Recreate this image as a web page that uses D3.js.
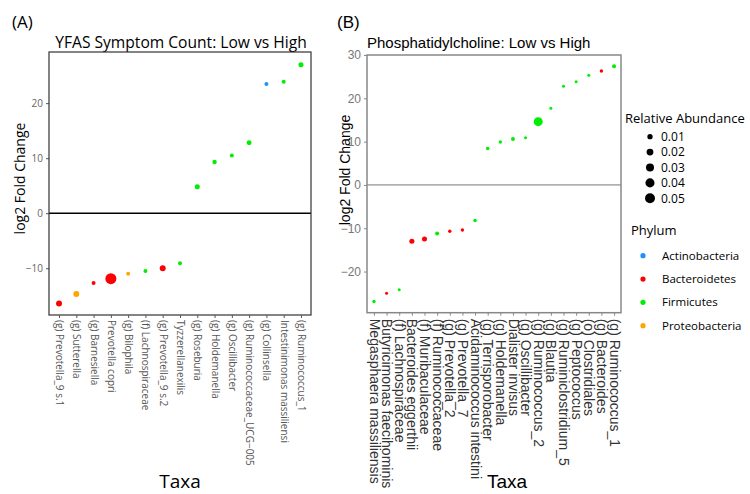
<!DOCTYPE html>
<html>
<head>
<meta charset="utf-8">
<script src="https://cdn.jsdelivr.net/npm/d3@7"></script>
<style>
  body { margin: 0; background: #fff; }
  svg { display: block; }
</style>
</head>
<body>
<svg id="chart" width="750" height="494"></svg>
<script>
// --- data: panel A (YFAS Symptom Count) ---
const taxaA = ['(g) Prevotella_9 s.1', '(g) Sutterella', '(g) Barnesiella', 'Prevotella copri',
  '(g) Bilophila', '(f) Lachnospiraceae', '(g) Prevotella_9 s.2', 'Tyzzerellanexilis',
  '(g) Roseburia', '(g) Holdemanella', '(g) Oscillibacter', '(g) Ruminococcaceae_UCG\u2212005',
  '(g) Collinsella', 'Intestinimonas massiliensi', '(g) Ruminococcus_1'];
const lfcA = [-16.4, -14.7, -12.7, -11.9, -11.0, -10.5, -10.0, -9.1, 4.8, 9.3, 10.5, 12.8, 23.5, 23.9, 27.0];
const abundA = [0.018, 0.018, 0.006, 0.07, 0.006, 0.006, 0.018, 0.006, 0.012, 0.008, 0.006, 0.011, 0.006, 0.006, 0.012];
const phylumA = ['Bacteroidetes', 'Proteobacteria', 'Bacteroidetes', 'Bacteroidetes', 'Proteobacteria',
  'Firmicutes', 'Bacteroidetes', 'Firmicutes', 'Firmicutes', 'Firmicutes', 'Firmicutes', 'Firmicutes',
  'Actinobacteria', 'Firmicutes', 'Firmicutes'];
const yTicksA = [-10, 0, 10, 20];

// --- data: panel B (Phosphatidylcholine) ---
const taxaB = ['Megasphaera massiliensis', 'Butyricimonas faecihominis', '(f) Lachnospiraceae',
  'Bacteroides eggerthii', '(f) Muribaculaceae', '(f) Ruminococcaceae', '(g) Prevotella_2',
  '(g) Prevotella_7', 'Acidaminococcus intestini', '(g) Terrisporobacter', '(g) Holdemanella',
  'Dialister invisus', '(g) Oscillibacter', '(g) Ruminococcus_2', '(g) Blautia',
  '(g) Ruminiclostridium_5', '(g) Peptococcus', '(o) Clostridiales', '(g) Bacteroides', '(g) Ruminococcus_1'];
const lfcB = [-26.9, -25.0, -24.2, -13.0, -12.5, -11.2, -10.7, -10.4, -8.2, 8.4, 9.9, 10.6, 10.9, 14.6, 17.7, 22.8, 23.8, 25.3, 26.3, 27.4];
const abundB = [0.0035, 0.002, 0.002, 0.012, 0.012, 0.006, 0.0035, 0.0035, 0.004, 0.004, 0.0035, 0.006, 0.002, 0.045, 0.002, 0.002, 0.002, 0.002, 0.0035, 0.006];
const phylumB = ['Firmicutes', 'Bacteroidetes', 'Firmicutes', 'Bacteroidetes', 'Bacteroidetes', 'Firmicutes',
  'Bacteroidetes', 'Bacteroidetes', 'Firmicutes', 'Firmicutes', 'Firmicutes', 'Firmicutes', 'Firmicutes',
  'Firmicutes', 'Firmicutes', 'Firmicutes', 'Firmicutes', 'Firmicutes', 'Bacteroidetes', 'Firmicutes'];
const yTicksB = [-20, -10, 0, 10, 20, 30];

// --- legends ---
const sizeBreaks = [0.01, 0.02, 0.03, 0.04, 0.05];
const phyla = ['Actinobacteria', 'Bacteroidetes', 'Firmicutes', 'Proteobacteria'];
const phylaColors = ['#1e90ff', '#ff0000', '#00ee00', '#ffa500'];

const svg = d3.select('#chart');
const color = d3.scaleOrdinal().domain(phyla).range(phylaColors);
const size = d3.scaleRadial().domain([0, 0.05]).range([1.2, 4.7]);

function toRows(taxa, lfc, ab, ph) {
  return taxa.map((t, i) => ({ taxon: t, lfc: lfc[i], abund: ab[i], phylum: ph[i] }));
}

// ---------- Panel A ----------
(function () {
  const box = { x0: 49, x1: 311, y0: 52, y1: 315 };
  const font = "'Open Sans', sans-serif";
  const rows = toRows(taxaA, lfcA, abundA, phylumA);
  const x = d3.scalePoint().domain(taxaA).range([box.x0, box.x1]).padding(0.58);
  const y = d3.scaleLinear().domain([-18.5, 29.3]).range([box.y1, box.y0]);
  const g = svg.append('g');

  g.append('text').attr('x', 12).attr('y', 28).style('font-family', font).style('font-size', '17px').text('(A)');
  g.append('text').attr('x', (box.x0 + box.x1) / 2 + 1).attr('y', 48).attr('text-anchor', 'middle')
    .style('font-family', font).style('font-size', '15.6px').text('YFAS Symptom Count: Low vs High');

  // y axis
  const ya = g.append('g').attr('transform', `translate(${box.x0},0)`)
    .call(d3.axisLeft(y).tickValues(yTicksA).tickSize(3).tickFormat(d => d < 0 ? '\u2212' + Math.abs(d) : d));
  ya.select('.domain').remove();
  ya.selectAll('line').attr('stroke', '#555');
  ya.selectAll('text').attr('fill', '#666').style('font-family', font).style('font-size', '10px');

  // zero line
  g.append('line').attr('x1', box.x0).attr('x2', box.x1).attr('y1', y(0)).attr('y2', y(0))
    .attr('stroke', '#000').attr('stroke-width', 1.5);

  g.append('rect').attr('x', box.x0).attr('y', box.y0).attr('width', box.x1 - box.x0).attr('height', box.y1 - box.y0)
    .attr('fill', 'none').attr('stroke', '#333').attr('stroke-width', 1.2);

  // x axis labels
  const xa = g.append('g').attr('transform', `translate(0,${box.y1})`)
    .call(d3.axisBottom(x).tickSize(3));
  xa.select('.domain').remove();
  xa.selectAll('line').attr('stroke', '#555');
  xa.selectAll('text').attr('fill', '#555').style('font-family', font).style('font-size', '10px')
    .attr('transform', 'rotate(90)').attr('text-anchor', 'start').attr('x', 5).attr('y', 0).attr('dy', '0.35em');

  g.append('text').attr('transform', `translate(25,${(box.y0 + box.y1) / 2 - 5}) rotate(-90)`)
    .attr('text-anchor', 'middle').style('font-family', font).style('font-size', '14px').text('log2 Fold Change');
  g.append('text').attr('x', 180).attr('y', 488).attr('text-anchor', 'middle')
    .style('font-family', font).style('font-size', '19px').text('Taxa');

  g.selectAll('circle.pt').data(rows).enter().append('circle').attr('class', 'pt')
    .attr('cx', d => x(d.taxon)).attr('cy', d => y(d.lfc)).attr('r', d => size(d.abund))
    .attr('fill', d => color(d.phylum));
})();

// ---------- Panel B ----------
(function () {
  const box = { x0: 367, x1: 621, y0: 55, y1: 312.7 };
  const font = "'Liberation Sans', Arial, sans-serif";
  const rows = toRows(taxaB, lfcB, abundB, phylumB);
  const x = d3.scalePoint().domain(taxaB).range([box.x0, box.x1]).padding(0.55);
  const y = d3.scaleLinear().domain([-29.5, 30]).range([box.y1, box.y0]);
  const g = svg.append('g');

  g.append('text').attr('x', 337).attr('y', 28).style('font-family', font).style('font-size', '17px').text('(B)');
  g.append('text').attr('x', 367).attr('y', 48)
    .style('font-family', font).style('font-size', '15px').text('Phosphatidylcholine: Low vs High');

  const ya = g.append('g').attr('transform', `translate(${box.x0},0)`)
    .call(d3.axisLeft(y).tickValues(yTicksB).tickSize(3));
  ya.select('.domain').remove();
  ya.selectAll('line').attr('stroke', '#888');
  ya.selectAll('text').attr('fill', '#777').style('font-family', font).style('font-size', '12px');

  g.append('line').attr('x1', box.x0).attr('x2', box.x1).attr('y1', y(0)).attr('y2', y(0))
    .attr('stroke', '#777').attr('stroke-width', 1);

  g.append('rect').attr('x', box.x0).attr('y', box.y0).attr('width', box.x1 - box.x0).attr('height', box.y1 - box.y0)
    .attr('fill', 'none').attr('stroke', '#888').attr('stroke-width', 1.5);

  const xa = g.append('g').attr('transform', `translate(0,${box.y1})`)
    .call(d3.axisBottom(x).tickSize(3));
  xa.select('.domain').remove();
  xa.selectAll('line').attr('stroke', '#888');
  xa.selectAll('text').attr('fill', '#333').style('font-family', font).style('font-size', '14px')
    .attr('transform', 'rotate(90)').attr('text-anchor', 'start').attr('x', 6).attr('y', 0).attr('dy', '0.35em');

  g.append('text').attr('transform', `translate(350,170) rotate(-90)`)
    .attr('text-anchor', 'middle').style('font-family', font).style('font-size', '14px').text('log2 Fold Change');
  g.append('text').attr('x', 507).attr('y', 488).attr('text-anchor', 'middle')
    .style('font-family', font).style('font-size', '19px').text('Taxa');

  g.selectAll('circle.pt').data(rows).enter().append('circle').attr('class', 'pt')
    .attr('cx', d => x(d.taxon)).attr('cy', d => y(d.lfc)).attr('r', d => size(d.abund))
    .attr('fill', d => color(d.phylum));
})();

// ---------- Legends ----------
(function () {
  const font = "'Open Sans', sans-serif";
  const g = svg.append('g');
  g.append('text').attr('x', 625).attr('y', 123).style('font-family', font).style('font-size', '13px')
    .text('Relative  Abundance');
  const sy = d3.scalePoint().domain(sizeBreaks).range([136.7, 198.3]);
  const si = g.selectAll('g.sz').data(sizeBreaks).enter().append('g')
    .attr('transform', d => `translate(650,${sy(d)})`);
  si.append('circle').attr('r', d => size(d) + 0.3).attr('fill', '#000');
  si.append('text').attr('x', 11).attr('dy', '0.35em').style('font-family', font).style('font-size', '12px')
    .text(d => d.toFixed(2));

  g.append('text').attr('x', 631).attr('y', 235).style('font-family', font).style('font-size', '13px').text('Phylum');
  const py = d3.scalePoint().domain(phyla).range([255.7, 325.7]);
  const pi = g.selectAll('g.ph').data(phyla).enter().append('g')
    .attr('transform', d => `translate(643,${py(d)})`);
  pi.append('circle').attr('r', 2.6).attr('fill', d => color(d));
  pi.append('text').attr('x', 19).attr('dy', '0.35em').style('font-family', font).style('font-size', '11.5px')
    .text(d => d);
})();
</script>
</body>
</html>
